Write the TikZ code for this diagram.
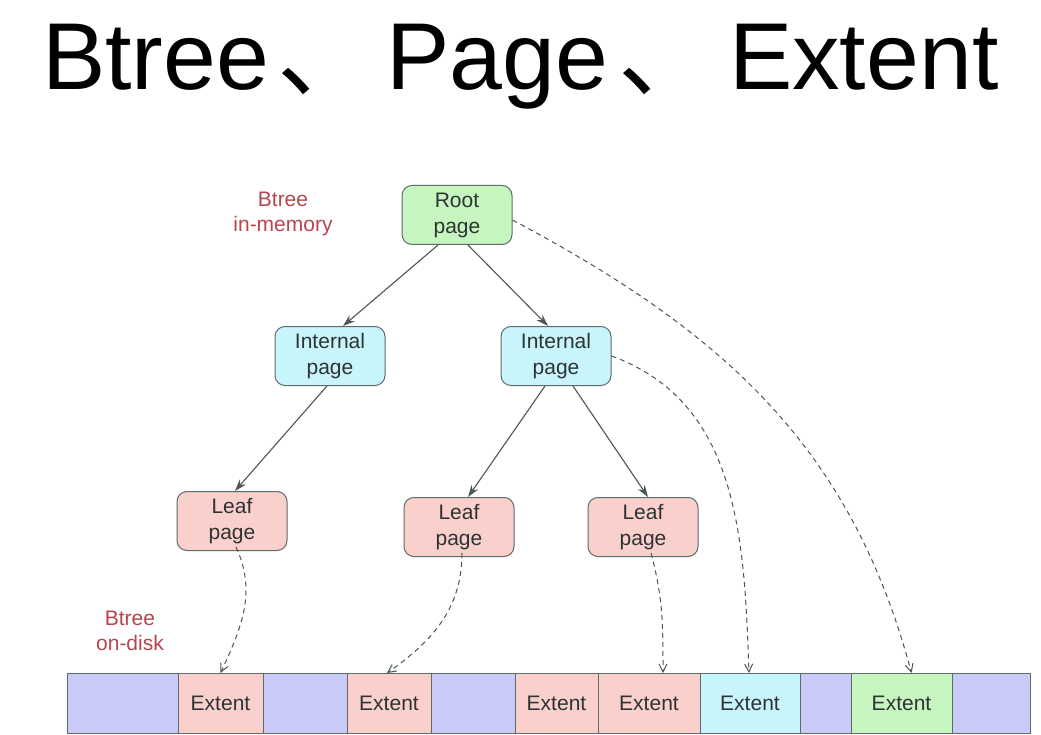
\documentclass[tikz,border=0pt]{standalone}
\usepackage{fontspec}
\setmainfont{Liberation Sans}
\newfontfamily\cjk{Noto Sans CJK SC}
\usetikzlibrary{positioning,arrows.meta}

\definecolor{edge}{HTML}{5E6B6B}
\definecolor{txt}{HTML}{2E3333}
\definecolor{rootfill}{HTML}{C6F5C0}
\definecolor{innerfill}{HTML}{C8F5FB}
\definecolor{leaffill}{HTML}{F9D0CB}
\definecolor{diskfill}{HTML}{CACAF8}
\definecolor{note}{HTML}{B5454F}

\begin{document}
\begin{tikzpicture}[x=1pt, y=-1pt,
    page/.style = {draw=edge, line width=1pt, rounded corners=10pt, minimum width=110pt, minimum height=59pt, align=center, text=txt, font=\fontsize{21}{26}\selectfont},
    ext/.style = {draw=edge, line width=1pt, minimum height=60pt, outer sep=0pt, inner sep=0pt, text=txt, font=\fontsize{21}{26}\selectfont},
    note/.style = {align=center, text=note, font=\fontsize{21}{25}\selectfont},
    tree/.style = {draw=edge!80!black, line width=1.1pt, -{Stealth[length=12pt,width=8pt]}},
    link/.style = {draw=edge!80!black, line width=1pt, dashed, dash pattern=on 5pt off 4pt, -{Straight Barb[length=8pt,width=8pt]}}]
    \useasboundingbox[fill=white] (0,0) rectangle (1041,735);

    % title
    \node[anchor=base west, inner sep=0pt, font=\fontsize{95}{95}\selectfont] (title) at (42,90)
        {Btree\hspace{8pt}{\cjk 、}\hspace{14pt}Page\hspace{10pt}{\cjk 、}\hspace{16pt}Extent};

    % in-memory tree
    \node[page, fill=rootfill] (root) at (457,215) {Root\\page};
    \node[page, fill=innerfill] (inl) at (330,356) {Internal\\page};
    \node[page, fill=innerfill] (inr) at (556,356) {Internal\\page};
    \node[page, fill=leaffill] (l1) at (232,521) {Leaf\\page};
    \node[page, fill=leaffill] (l2) at (459,527) {Leaf\\page};
    \node[page, fill=leaffill] (l3) at (643,527) {Leaf\\page};

    \node[note] (mem) at (283,214) {Btree\\in-memory};
    \node[note] (disk) at (130,631) {Btree\\on-disk};

    % on-disk extents
    \node[ext, fill=diskfill, minimum width=111pt, anchor=north west] (d1) at (67,673) {};
    \node[ext, fill=leaffill, minimum width=85pt, right=0pt of d1] (e1) {Extent};
    \node[ext, fill=diskfill, minimum width=84pt, right=0pt of e1] (d2) {};
    \node[ext, fill=leaffill, minimum width=84pt, right=0pt of d2] (e2) {Extent};
    \node[ext, fill=diskfill, minimum width=84pt, right=0pt of e2] (d3) {};
    \node[ext, fill=leaffill, minimum width=83pt, right=0pt of d3] (e3) {Extent};
    \node[ext, fill=leaffill, minimum width=102pt, right=0pt of e3] (e4) {Extent};
    \node[ext, fill=innerfill, minimum width=100pt, right=0pt of e4] (e5) {Extent};
    \node[ext, fill=diskfill, minimum width=51pt, right=0pt of e5] (d4) {};
    \node[ext, fill=rootfill, minimum width=101pt, right=0pt of d4] (e6) {Extent};
    \node[ext, fill=diskfill, minimum width=78pt, right=0pt of e6] (d5) {};

    % tree edges
    \draw[tree] ([xshift=-19pt]root.south) -- ([xshift=13pt]inl.north);
    \draw[tree] ([xshift=11pt]root.south) -- ([xshift=-8pt]inr.north);
    \draw[tree] ([xshift=-3pt]inl.south) -- ([xshift=3pt]l1.north);
    \draw[tree] ([xshift=-11pt]inr.south) -- ([xshift=9pt]l2.north);
    \draw[tree] ([xshift=17pt]inr.south) -- ([xshift=5pt]l3.north);

    % pages to extents
    \draw[link] ([xshift=4pt,yshift=4pt]l1.south) to[out=-65, in=65] (e1.north);
    \draw[link] ([xshift=3pt,yshift=4pt]l2.south) to[out=-90, in=35] ([xshift=-2pt]e2.north);
    \draw[link] ([xshift=8pt,yshift=4pt]l3.south) to[out=-75, in=90] ([xshift=14pt]e4.north);
    \draw[link] (inr.east) to[out=-20, in=92] ([xshift=-1pt]e5.north);
    \draw[link] ([yshift=-5pt]root.east) to[out=-28, in=105] ([xshift=10pt]e6.north);
\end{tikzpicture}
\end{document}
